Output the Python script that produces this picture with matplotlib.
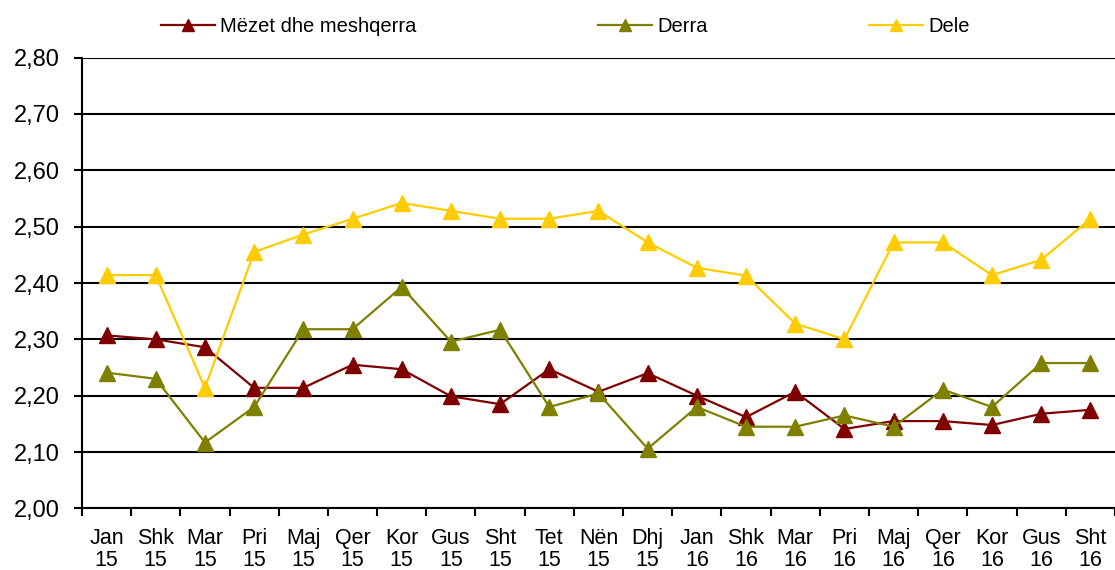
import numpy as np
import matplotlib
matplotlib.use('Agg')
import matplotlib.pyplot as plt
from matplotlib.ticker import FuncFormatter, FixedLocator

plt.rcParams['font.family'] = ['Liberation Sans', 'DejaVu Sans']

# month labels (Albanian), two lines: month / year
months = ['Jan', 'Shk', 'Mar', 'Pri', 'Maj', 'Qer', 'Kor', 'Gus', 'Sht', 'Tet', 'Nën', 'Dhj',
          'Jan', 'Shk', 'Mar', 'Pri', 'Maj', 'Qer', 'Kor', 'Gus', 'Sht']
years = ['15'] * 12 + ['16'] * 9
labels = [m + '\n' + y for m, y in zip(months, years)]

mezet = [2.307, 2.300, 2.286, 2.214, 2.214, 2.255, 2.247, 2.199, 2.185, 2.247, 2.207,
         2.240, 2.200, 2.162, 2.207, 2.141, 2.155, 2.155, 2.148, 2.168, 2.175]
derra = [2.241, 2.230, 2.117, 2.180, 2.318, 2.318, 2.393, 2.296, 2.317, 2.180, 2.204,
         2.106, 2.180, 2.145, 2.145, 2.165, 2.145, 2.211, 2.180, 2.258, 2.258]
dele = [2.414, 2.414, 2.214, 2.455, 2.486, 2.514, 2.542, 2.528, 2.514, 2.514, 2.528,
        2.472, 2.427, 2.413, 2.328, 2.300, 2.472, 2.472, 2.414, 2.441, 2.514]

x = np.arange(len(labels))

fig = plt.figure(figsize=(11.15, 5.7), dpi=100)
ax = fig.add_axes([0.0735, 0.108, 0.9265, 0.791])

l1, = ax.plot(x, mezet, color='#800000', lw=1.6, marker='^', ms=11, label='Mëzet dhe meshqerra', zorder=3)
l2, = ax.plot(x, derra, color='#808000', lw=1.6, marker='^', ms=11, label='Derra', zorder=4)
l3, = ax.plot(x, dele, color='#FFCC00', lw=1.6, marker='^', ms=11, label='Dele', zorder=5)

ax.set_xlim(-0.5, len(labels) - 0.5)
ax.set_ylim(2.0, 2.8)
ax.set_yticks(np.arange(2.0, 2.81, 0.1))
ax.yaxis.set_major_formatter(FuncFormatter(lambda v, p: ('%.2f' % v).replace('.', ',')))
ax.grid(axis='y', color='black', lw=1.5, zorder=1)

ax.set_xticks(x)
ax.set_xticklabels(labels, fontsize=15.5, linespacing=1.05)
ax.tick_params(axis='x', which='major', length=0, pad=14)
ax.xaxis.set_minor_locator(FixedLocator(np.arange(-0.5, len(labels), 1.0)))
ax.tick_params(axis='x', which='minor', length=6, width=1.5, direction='out')
ax.tick_params(axis='y', length=6, width=1.5, direction='out', labelsize=17, pad=10)

for s in ['top', 'right']:
    ax.spines[s].set_visible(False)
for s in ['left', 'bottom']:
    ax.spines[s].set_linewidth(1.5)

# legend entries placed individually along the top
for h, xpos in [(l1, 0.1278), (l2, 0.5197), (l3, 0.7628)]:
    fig.legend(handles=[h], loc='center left', bbox_to_anchor=(xpos, 0.954), frameon=False,
               fontsize=14.5, handlelength=2.7, handletextpad=0.25, markerscale=0.8)

fig.savefig('out.png', dpi=100)
